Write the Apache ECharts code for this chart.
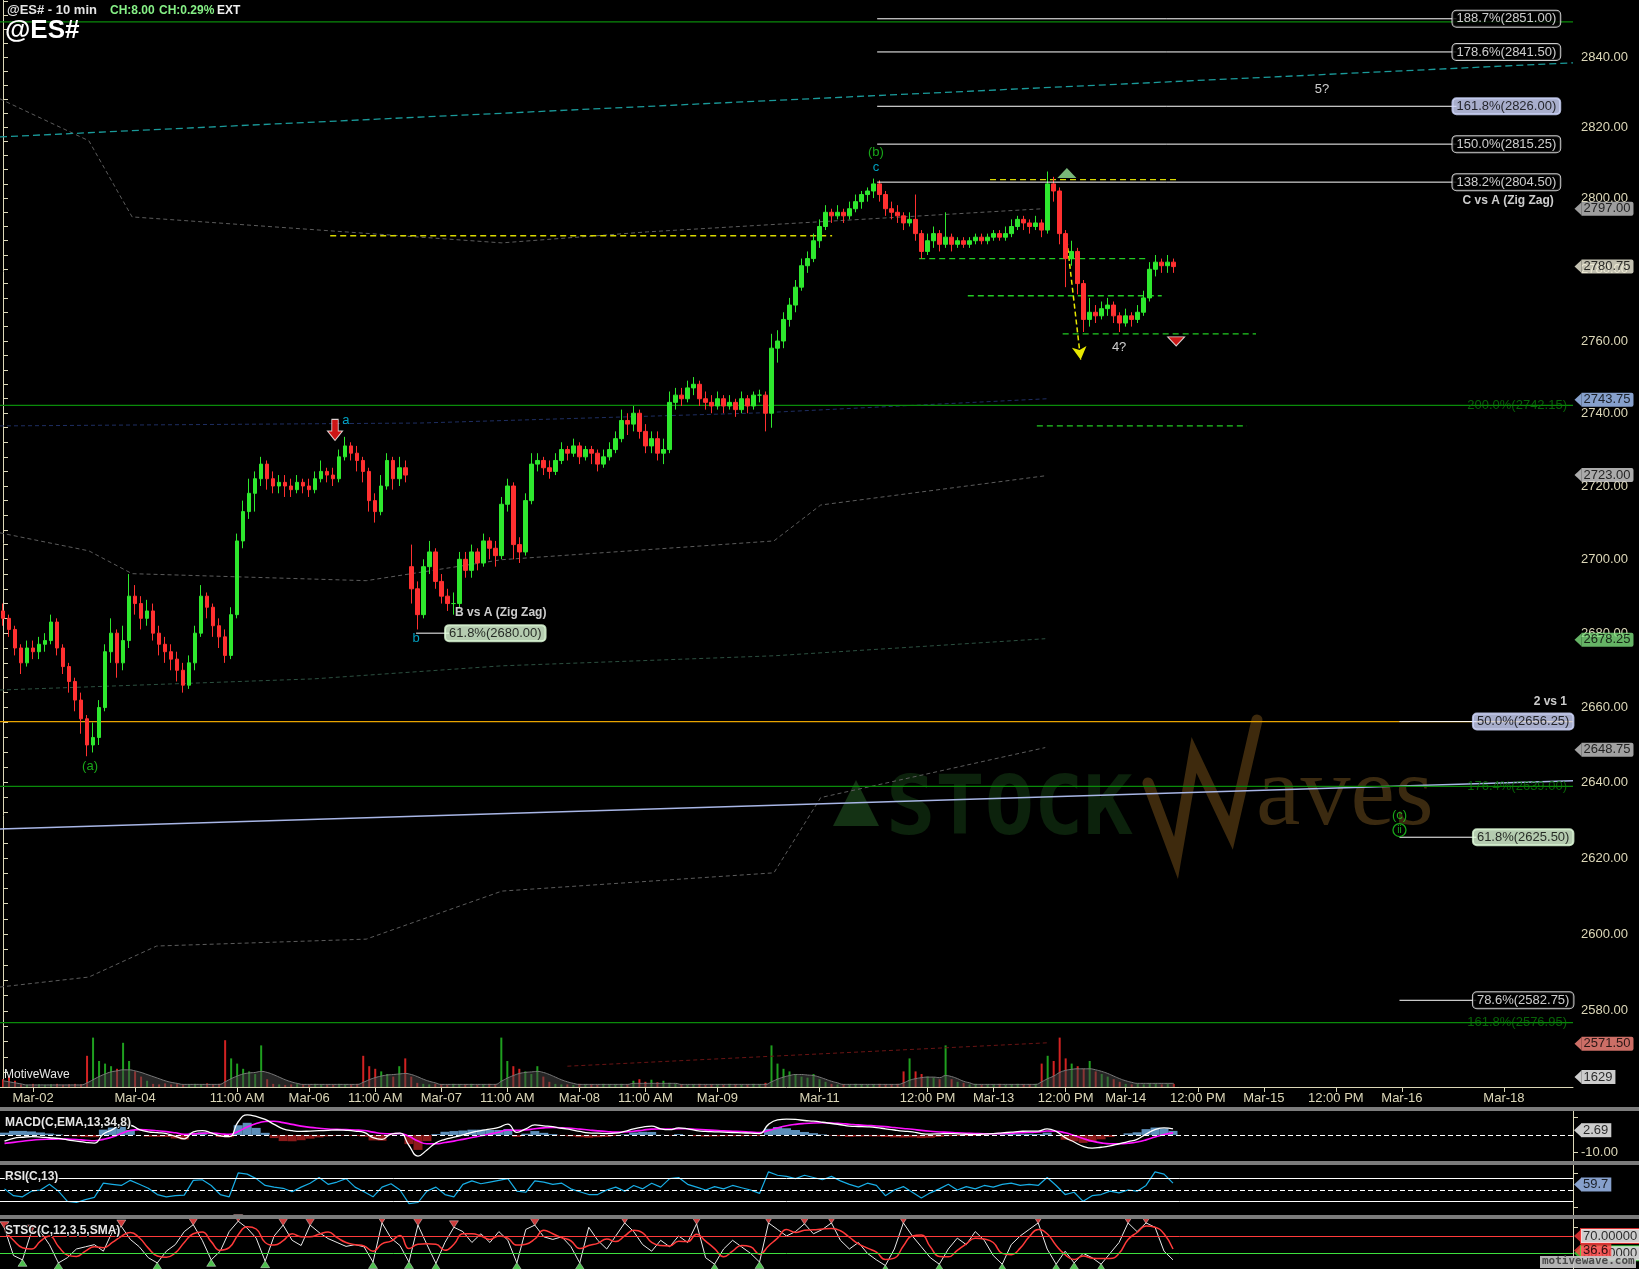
<!DOCTYPE html>
<html><head><meta charset="utf-8">
<script src="https://cdn.jsdelivr.net/npm/echarts@6.0.0/dist/echarts.min.js"></script>
<style>html,body{margin:0;padding:0;background:#000;overflow:hidden}#c{width:1639px;height:1269px}</style>
</head><body><div id="c"></div>
<script>
// ---------------- DATA ----------------
const N = 262;      // price-panel slots (10-min bars, compressed)
const N2 = 175;     // indicator-panel slots
const xTickLabels = [[5,'Mar-02'],[22,'Mar-04'],[39,'11:00 AM'],[51,'Mar-06'],[62,'11:00 AM'],[73,'Mar-07'],[84,'11:00 AM'],[96,'Mar-08'],[107,'11:00 AM'],[119,'Mar-09'],[136,'Mar-11'],[154,'12:00 PM'],[165,'Mar-13'],[177,'12:00 PM'],[187,'Mar-14'],[199,'12:00 PM'],[210,'Mar-15'],[222,'12:00 PM'],[233,'Mar-16'],[250,'Mar-18']];
const priceLabels = [2580,2600,2620,2640,2660,2680,2700,2720,2740,2760,2780,2800,2820,2840];
const priceMinorTicks = [2564,2568,2572,2576,2580,2584,2588,2592,2596,2600,2604,2608,2612,2616,2620,2624,2628,2632,2636,2640,2644,2648,2652,2656,2660,2664,2668,2672,2676,2680,2684,2688,2692,2696,2700,2704,2708,2712,2716,2720,2724,2728,2732,2736,2740,2744,2748,2752,2756,2760,2764,2768,2772,2776,2780,2784,2788,2792,2796,2800,2804,2808,2812,2816,2820,2824,2828,2832,2836,2840,2844,2848,2852,2856];

// [open, close, low, high]
const ohlc = [
[2686,2684,2682,2688],[2684,2681,2679,2685],[2681,2676,2674,2682],[2676,2672,2669,2677],[2672,2676,2671,2678],
[2676,2675,2673,2678],[2675,2677,2673,2679],[2677,2678,2675,2680],[2678,2683,2677,2685],[2683,2676,2674,2684],
[2676,2671,2669,2677],[2671,2667,2664,2672],[2667,2662,2659,2668],[2662,2657,2653,2664],[2657,2650,2647,2658],
[2650,2652,2648,2656],[2652,2660,2650,2662],[2660,2675,2659,2677],[2675,2680,2672,2684],[2680,2672,2668,2681],
[2672,2678,2670,2682],[2678,2690,2676,2696],[2690,2688,2685,2693],[2688,2684,2681,2690],[2684,2686,2682,2689],
[2686,2680,2678,2688],[2680,2677,2674,2682],[2677,2675,2672,2679],[2675,2673,2670,2677],[2673,2670,2667,2675],
[2670,2666,2664,2672],[2666,2672,2665,2674],[2672,2680,2670,2682],[2680,2690,2679,2693],[2690,2687,2684,2691],
[2687,2682,2679,2688],[2682,2679,2676,2684],[2679,2674,2672,2681],[2674,2685,2673,2687],[2685,2705,2684,2707],
[2705,2713,2703,2716],[2713,2718,2711,2722],[2718,2722,2713,2724],[2722,2726,2720,2728],[2726,2722,2719,2727],
[2722,2720,2718,2724],[2720,2721,2718,2723],[2721,2720,2717,2723],[2720,2719,2717,2722],[2719,2721,2718,2723],
[2721,2720,2718,2722],[2720,2719,2717,2722],[2719,2722,2718,2724],[2722,2724,2721,2727],[2724,2723,2721,2725],
[2723,2722,2720,2725],[2722,2728,2721,2730],[2728,2731,2727,2733.5],[2731,2729,2727,2732],[2729,2727,2724,2731],
[2727,2724,2721,2728],[2724,2716,2713,2725],[2716,2713,2710,2718],[2713,2720,2712,2723],[2720,2727,2719,2729],
[2727,2722,2719,2728],[2722,2725,2720,2728],[2725,2723,2721,2727],[2698,2692,2688,2704],[2692,2685,2681,2694],
[2685,2698,2684,2700],[2698,2702,2696,2705],[2702,2694,2692,2703],[2694,2690,2688,2696],[2690,2688,2686,2692],
[2688,2688,2685,2691],[2688,2700,2687,2702],[2700,2697,2695,2702],[2697,2702,2695,2704],[2702,2699,2697,2703],
[2699,2705,2698,2707],[2705,2703,2700,2706],[2703,2701,2698,2705],[2701,2715,2700,2717],[2715,2720,2713,2722],
[2720,2704,2700,2721],[2704,2702,2699,2706],[2702,2716,2701,2718],[2716,2726,2715,2729],[2726,2727,2724,2729],
[2727,2725,2723,2728],[2725,2724,2722,2727],[2724,2727,2723,2729],[2727,2730,2726,2732],[2730,2729,2727,2731],
[2729,2731,2728,2733],[2731,2728,2726,2732],[2728,2730,2727,2731],[2730,2729,2726,2731],[2729,2726,2724,2730],
[2726,2728,2725,2730],[2728,2730,2727,2732],[2730,2733,2729,2735],[2733,2738,2732,2741],[2738,2737,2734,2740],
[2737,2740,2735,2742],[2740,2735,2733,2741],[2735,2731,2729,2737],[2731,2733,2729,2735],[2733,2729,2727,2735],
[2729,2730,2726,2733],[2730,2743,2729,2746],[2743,2745,2741,2747],[2745,2744,2742,2747],[2744,2747,2743,2749],
[2747,2748,2745,2750],[2748,2744,2742,2749],[2744,2743,2741,2746],[2743,2742,2740,2745],[2742,2744,2741,2746],
[2744,2742,2740,2745],[2742,2743,2741,2745],[2743,2741,2739,2744],[2741,2744,2740,2746],[2744,2742,2740,2745],
[2742,2745,2741,2746],[2745,2745,2743,2746.5],[2745,2740,2735,2746],[2740,2758,2736,2762],[2758,2760,2754,2763],
[2760,2766,2758,2768],[2766,2770,2764,2772],[2770,2775,2768,2777],[2775,2781,2774,2783],[2781,2783,2779,2785],
[2783,2788,2782,2790],[2788,2792,2786,2794],[2792,2796,2791,2798],[2796,2795,2793,2797],[2795,2796,2794,2798],
[2796,2795,2793,2797],[2795,2797,2794,2799],[2797,2799,2796,2801],[2799,2801,2797,2802],[2801,2802,2799,2803],
[2802,2804,2800,2805.5],[2804,2801,2799,2805],[2801,2797,2795,2802],[2797,2796,2794,2799],[2796,2795,2793,2798],
[2795,2793,2791,2796],[2793,2794,2792,2796],[2794,2790,2788,2801],[2790,2785,2783,2791],[2785,2788,2784,2790],
[2788,2790,2786,2792],[2790,2787,2785,2791],[2787,2789,2786,2796],[2789,2787,2785,2790],[2787,2788,2786,2789],
[2788,2787,2786,2789],[2787,2788,2786,2789],[2788,2789,2787,2790],[2789,2788,2787,2790],[2788,2789,2787,2790],
[2789,2790,2788,2791],[2790,2789,2788,2791],[2789,2790,2788,2792],[2790,2792,2789,2794],[2792,2794,2791,2795],
[2794,2793,2791,2795],[2793,2792,2790,2794],[2792,2793,2791,2795],[2793,2791,2789,2794],[2791,2804,2790,2807.5],
[2804,2802,2799,2806],[2802,2790,2787,2803],[2790,2783,2775,2791],[2783,2785,2781,2788],[2785,2776,2773,2786],
[2776,2766,2762.5,2777],[2766,2768,2764,2772],[2768,2767,2765,2770],[2767,2769,2766,2771],[2769,2770,2767,2772],
[2770,2767,2765,2771],[2767,2765,2762.5,2768],[2765,2767,2764,2769],[2767,2766,2764,2768],[2766,2768,2765,2770],
[2768,2772,2767,2774],[2772,2780,2771,2782],[2780,2782,2778,2784],[2782,2781,2779,2783],[2781,2782,2779,2784],
[2782,2780.75,2779,2783]
];

const volume = [15,20,12, 5,4,6,5,4,5,6,4,5,6,5,
60,95,50,45,40,35,85,50,30,20,12,
6,5,7,5,6,4,5,6,5,7,5,6,
90,55,45,35,30,25,80,15,
6,5,4,5,6,5,4,6,5,5,4,6,5,5,6,
60,40,35,30,25,20,40,55,
20,8,6,5,6,5,4,6,5,5,6,4,5,6,5,
95,50,40,35,30,25,40,20,10,
6,5,5,4,6,5,5,4,6,5,5,6,5,
12,15,10,14,9,12,8,6,
5,4,5,6,4,5,5,4,6,5,4,5,6,5,8,
80,45,35,30,25,20,18,25,15,10,
6,5,5,4,6,5,4,5,6,5,5,6,
30,55,30,25,20,18,15,80,15,10,8,
5,6,4,5,5,6,4,5,6,5,5,6,
45,60,50,95,55,45,40,35,50,30,25,20,15,10,
6,5,6,5,7,6,5,6,6];

const volumeAvg = [12,10,8,6, 4,4,4,4,4,4,4,4,4,4,
8,14,20,25,29,31,33,33,31,28,24,20,16,12,9,7,
5,5,5,5,5,5,5,
10,16,21,25,27,28,30,28,24,19,14,10,7,
5,5,5,5,5,5,5,5,5,5,
9,14,18,21,23,24,25,26,24,20,15,11,8,
5,5,5,5,5,5,5,5,5,5,
11,17,22,26,28,29,30,28,24,19,14,10,7,
5,5,5,5,5,5,5,5,5,
7,7,7,7,7,7,7,7,
5,5,5,5,5,5,5,5,5,5,5,5,5,5,5,
10,15,19,22,24,24,23,22,19,15,11,8,
5,5,5,5,5,5,5,5,5,5,
8,13,16,18,19,19,18,22,20,16,11,8,
5,5,5,5,5,5,5,5,5,5,5,
10,16,21,28,32,34,35,35,35,33,30,26,21,16,12,9,
7,7,7,7,7,7,7];

const macdLine = [-3.5,-1.9,-1.3,-1.0,-1.2,-1.6,-2.0,-2.8,-3.5,-4.2, -4.6,0.5,3.0,5.8,5.5,3.0,1.8,1.3,0.8,-0.8, -2.2,1.8,2.5,1.2,-0.5,-1.0,7.5,11.4,10.5,8.8, 6.0,3.5,2.4,2.0,2.2,2.4,2.6,2.8,2.6,2.2, 1.5,-1.5,-2.5,0.5,1.0,-6.0,-12.0,-8.5,-4.5,-2.5, -1.3,0.0,1.5,2.5,3.3,4.3,6.2,1.5,3.5,5.7, 5.2,4.7,3.8,3.0,2.0,1.2,1.0,0.8,1.0,2.0, 3.5,4.5,5.0,3.5,3.0,4.0,3.5,2.5,2.0,1.8, 1.6,1.4,1.2,1.0,0.8,6.0,8.5,9.0,8.8,8.2, 7.8,7.2,6.5,5.8,5.0,4.8,4.6,4.2,3.5,2.8, 2.2,1.8,0.8,0.5,0.6,0.8,0.6,0.4,0.3,0.5, 0.8,1.2,1.6,2.0,2.2,2.2,3.5,2.0,-1.5,-4.0, -6.5,-7.5,-7.0,-6.2,-5.0,-3.8,-2.5,0.5,3.0,4.0, 3.5];
const macdSignal = [-4.8,-4.2,-3.6,-3.0,-2.6,-2.4,-2.3,-2.4,-2.6,-3.0, -3.3,-2.5,-1.2,0.8,2.5,3.0,2.8,2.4,1.9,1.2, 0.4,0.6,1.0,1.1,0.7,0.3,2.0,4.5,6.5,7.6, 7.8,7.0,6.0,5.0,4.3,3.8,3.4,3.2,3.0,2.8, 2.5,1.6,0.8,0.7,0.8,-0.8,-3.5,-5.0,-5.0,-4.3, -3.5,-2.5,-1.5,-0.5,0.5,1.5,2.8,2.6,2.8,3.5, 4.0,4.2,4.1,3.8,3.3,2.8,2.3,1.9,1.6,1.7, 2.1,2.7,3.3,3.4,3.3,3.5,3.5,3.2,2.9,2.6, 2.3,2.1,1.9,1.6,1.4,2.5,4.0,5.2,6.0,6.5, 6.8,6.9,6.8,6.5,6.1,5.7,5.4,5.1,4.7,4.2, 3.7,3.2,2.6,2.1,1.7,1.5,1.2,1.0,0.8,0.7, 0.7,0.8,1.0,1.3,1.5,1.7,2.2,2.1,1.2,-0.3, -2.0,-3.5,-4.5,-5.0,-5.0,-4.7,-4.0,-2.8,-1.2,0.3, 1.2];
const macdHist = [1.3,2.3,2.3,2.0,1.4,0.8,0.3,-0.4,-0.9,-1.2, -1.3,3.0,4.2,5.0,3.0,0,-1.0,-1.1,-1.1,-2.0, -2.6,1.2,1.5,0.1,-1.2,-1.3,5.5,6.9,4.0,1.2, -1.8,-3.5,-3.6,-3.0,-2.1,-1.4,-0.8,-0.4,-0.4,-0.6, -1.0,-3.1,-3.3,-0.2,0.2,-5.2,-8.5,-3.5,0.5,1.8, 2.2,2.5,3.0,3.0,2.8,2.8,3.4,-1.1,0.7,2.2, 1.2,0.5,-0.3,-0.8,-1.3,-1.6,-1.3,-1.1,-0.6,0.3, 1.4,1.8,1.7,0.1,-0.3,0.5,0,-0.7,-0.9,-0.8, -0.7,-0.7,-0.7,-0.6,-0.6,3.5,4.5,3.8,2.8,1.7, 1.0,0.3,-0.3,-0.7,-1.1,-0.9,-0.8,-0.9,-1.2,-1.4, -1.5,-1.4,-1.8,-1.6,-1.1,-0.7,-0.6,-0.6,-0.5,-0.2, 0.1,0.4,0.6,0.7,0.7,0.5,1.3,-0.1,-2.7,-3.7, -4.5,-4.0,-2.5,-1.2,0,0.9,1.5,3.3,4.2,3.7, 2.3];
const rsi = [52,40,38,48,50,60,48,30,28,33, 37,62,60,58,67,60,53,42,38,40, 41,67,68,58,42,38,80,78,70,58, 55,53,47,55,62,72,60,64,70,55, 47,38,55,61,50,26,28,48,55,42, 38,60,66,61,64,67,70,48,46,66, 64,60,62,52,47,42,42,50,55,48, 58,52,62,55,70,72,60,55,50,56, 52,58,54,50,44,82,76,74,70,76, 72,68,74,66,60,55,62,58,40,50, 56,46,36,45,52,60,50,56,52,58, 55,60,62,58,60,58,72,58,42,46, 30,40,42,48,45,50,48,58,82,78, 62];
const stK = [88,25,15,80,80,50,8,20,40,45, 50,35,80,92,62,45,20,8,35,50, 80,96,60,15,35,80,104,88,65,12, 70,95,60,48,95,78,64,55,46,50, 45,10,100,65,48,10,95,50,7,55, 90,80,55,75,55,80,60,8,85,95, 68,62,68,46,8,90,60,40,70,100, 80,50,35,60,45,70,55,98,20,5, 40,60,45,30,10,100,85,70,80,98, 75,85,100,60,40,55,30,15,2,40, 100,70,45,20,5,40,65,50,80,60, 25,5,50,70,85,100,40,5,35,8, 30,20,5,30,55,100,80,100,90,35, 15];
const stD = [82,60,43,40,58,70,46,26,23,35, 45,43,55,69,78,66,42,24,21,31, 55,75,79,57,37,43,73,91,86,55, 49,59,75,68,68,74,79,66,55,50, 47,35,52,58,71,41,51,52,51,37, 51,75,75,70,62,70,65,49,51,63, 83,75,66,59,41,48,53,63,57,70, 83,77,55,48,47,58,57,74,58,41, 22,35,48,45,28,47,65,85,78,83, 84,86,87,82,67,52,42,33,16,19, 47,70,72,45,23,22,37,52,65,63, 55,30,27,42,68,85,75,48,27,16, 24,19,18,18,30,62,78,93,90,75, 40];
const stPeaks = [0,3,13,21,26,31,34,42,46,50,59,69,77,85,89,92,100,115,125,127];
const stTroughs = [2,6,17,23,29,41,45,48,57,64,79,84,98,104,111,117,119,122];

// overlay studies (x in slot units, price)
const channelA = [[-0.5,2828.1],[14.3,2816.2],[21.5,2794.7],[83.1,2787.4],[107.4,2790.5],[173.2,2797.0]];
const channelB = [[-0.5,2707.2],[14.3,2702.3],[21.5,2696.1],[60.5,2694.2],[83.1,2699.9],[128.4,2705.0],[136.2,2714.8],[173.6,2722.8]];
const channelC = [[-0.5,2664.7],[51.8,2667.7],[83.1,2671.2],[128.4,2673.9],[173.6,2678.5]];
const channelD = [[-0.5,2586.2],[14.3,2588.8],[25.6,2596.9],[60.5,2598.7],[83.1,2611.3],[128.4,2616.1],[136.2,2636.0],[173.6,2649.3]];
const navyLine = [[-0.5,2736.5],[69.5,2737.3],[126.1,2740.1],[173.9,2744.0]];
const tealLine = [[-0.5,2817.3],[261.5,2838.4]];
const lavenderLine = [[-0.5,2627.7],[261.5,2640.5]];
const yellowLevels = [[2789.4,54.5,138.1],[2805.2,164.4,195.7]];
const greenDashLevels = [[2783.0,152.6,190.7],[2772.6,160.7,193.0],[2762.0,176.5,208.7],[2736.5,172.2,207.2]];
const greenLevels = [[2850.1,''],[2742.15,'200.0%'],[2639.0,'176.4%'],[2576.95,'161.8%']];
const orangeLevel = 2656.25;
const fibUpper = [['188.7%',2851.00,'k'],['178.6%',2841.50,'k'],['161.8%',2826.00,'b'],['150.0%',2815.25,'k'],['138.2%',2804.50,'k']];
const fibLower = [['50.0%',2656.25,'b'],['61.8%',2625.50,'g'],['78.6%',2582.75,'k']];
const fibB = [['61.8%',2680.00,'g']];
const waveLabels = [[14.5,2644.4,'(a)','#1fd01f'],[57.1,2737.9,'a','#00c8f0'],[68.8,2678.7,'b','#00c8f0'],[145.4,2813.0,'(b)','#1fd01f'],[145.4,2808.7,'c','#00c8f0'],[185.9,2758.2,'4?','#ffffff'],[219.7,2830.7,'5?','#ffffff'],[232.6,2631.2,'(c)','#1fd01f']];
const notes = [[75.3,2685.4,'B vs A (Zig Zag)','left'],[258.3,2799.2,'C vs A (Zig Zag)','right'],[260.5,2661.7,'2 vs 1','right']];
const axisTags = [[2797.00,'#c4c4c4'],[2780.75,'#f2f0dc'],[2743.75,'#a8c8ff'],[2723.00,'#d4d4d4'],[2678.25,'#7ee07e'],[2648.75,'#c8c8c8'],[2571.50,'#ff8a80']];

// ---------------- BUILD ----------------
const AX = '#dcd7b8';
const FONT = '"Liberation Sans", Arial, sans-serif';
const labelMap = {}; xTickLabels.forEach(([i,t]) => labelMap[i] = t);
const categories = Array.from({length:N}, (_, i) => String(i));
const indCats = Array.from({length:N2}, (_, i) => String(i));
const isLab = (idx) => labelMap[idx] !== undefined;

const boxStyle = {
  k: {backgroundColor:'#000', color:'#fff', borderColor:'#fff'},
  b: {backgroundColor:'#d2daff', color:'#000', borderColor:'#d2daff'},
  g: {backgroundColor:'#e2ffdc', color:'#000', borderColor:'#e2ffdc'}
};
function seg(data, color, type, width, z) {
  return {type:'line', xAxisIndex:1, yAxisIndex:0, data, symbol:'none', silent:true, z: z||3,
    lineStyle:{color, type: type||'solid', width: width||1}, animation:false};
}
function textPoint(x, y, text, color, fontSize, weight, align) {
  return {value:[x,y], label:{show:true, position:'inside', formatter:text, color, fontSize, fontWeight:weight||'normal', align:align||'center', fontFamily:FONT}};
}

const series = [];
// candles
series.push({type:'candlestick', xAxisIndex:0, yAxisIndex:0, data:ohlc, barWidth:4, z:5,
  itemStyle:{color:'#2ee82e', color0:'#ff3030', borderColor:'#2ee82e', borderColor0:'#ff3030', borderWidth:1}});
// channels
series.push(seg(channelA,'#5c5c5c',[4,3],1));
series.push(seg(channelB,'#5c5c5c',[4,3],1));
series.push(seg(channelC,'#2c5040',[4,3],1));
series.push(seg(channelD,'#5c5c5c',[4,3],1));
series.push(seg(navyLine,'#1e2e62',[4,3],1));
series.push(seg(tealLine,'#1a9a9a',[7,4],1.3));
series.push(seg(lavenderLine,'#a8b6e6','solid',1.5));
series.push(seg([[-0.5,orangeLevel],[261.5,orangeLevel]],'#e8a400','solid',1.3));
greenLevels.forEach(([p]) => series.push(seg([[-0.5,p],[261.5,p]],'#0a8a0a','solid',1.2)));
yellowLevels.forEach(([p,a,b]) => series.push(seg([[a,p],[b,p]],'#d8d800',[6,4],1.3)));
greenDashLevels.forEach(([p,a,b]) => series.push(seg([[a,p],[b,p]],'#22cc22',[6,4],1.3)));
fibUpper.forEach(([t,p]) => series.push(seg([[145.6,p],[242.1,p]],'#ffffff','solid',1,6)));
fibLower.forEach(([t,p]) => series.push(seg([[232.6,p],[245.4,p]],'#ffffff','solid',1,6)));
fibB.forEach(([t,p]) => series.push(seg([[68.8,p],[74.4,p]],'#ffffff','solid',1,6)));
// yellow dashed arrow
series.push({type:'line', xAxisIndex:1, yAxisIndex:0, data:[], silent:true,
  markLine:{silent:true, symbol:['none','arrow'], symbolSize:[11,13], animation:false,
    lineStyle:{color:'#e8e800', type:[5,3], width:1.5}, label:{show:false},
    data:[[{coord:[177.2,2788.2]},{coord:[179.5,2754.8]}]]}});

// annotation texts
const textData = [];
greenLevels.forEach(([p,t]) => { if (t) textData.push(textPoint(260.5,p,t+'('+p.toFixed(2)+')','#0a7a0a',13,'normal','right')); });
waveLabels.forEach(([x,y,t,c]) => textData.push(textPoint(x,y,t,c,13)));
notes.forEach(([x,y,t,a]) => textData.push(textPoint(x,y,t,'#ffffff',12,'bold',a)));
function boxPoint(x, p, pct, key) {
  const s = boxStyle[key];
  return {value:[x,p], label:{show:true, position:'inside', formatter: pct+'('+p.toFixed(2)+')', fontSize:13, fontFamily:FONT,
    color:s.color, backgroundColor:s.backgroundColor, borderColor:s.borderColor, borderWidth:1, borderRadius:4, padding:[2,4,1,4]}};
}
fibUpper.forEach(([t,p,k]) => textData.push(boxPoint(250.4,p,t,k)));
fibLower.forEach(([t,p,k]) => textData.push(boxPoint(253.2,p,t,k)));
fibB.forEach(([t,p,k]) => textData.push(boxPoint(82.0,p,t,k)));
series.push({type:'scatter', xAxisIndex:1, yAxisIndex:0, data:textData, symbolSize:1, clip:false, silent:true, z:10,
  itemStyle:{color:'rgba(0,0,0,0)'}});
// symbols: red arrow at 'a', green up triangle, red down triangle, circled ii
series.push({type:'scatter', xAxisIndex:1, yAxisIndex:0, silent:true, z:11, clip:false,
  data:[
    {value:[55.3,2735.4], symbol:'path://M4,0 L10,0 L10,11 L14,11 L7,20 L0,11 L4,11 Z', symbolSize:[15,21], itemStyle:{color:'#ff1a1a', borderColor:'#ffffff', borderWidth:1}},
    {value:[177.2,2807.1], symbol:'triangle', symbolSize:[19,10], itemStyle:{color:'#96e496'}},
    {value:[195.4,2759.9], symbol:'triangle', symbolRotate:180, symbolSize:[17,9], itemStyle:{color:'#ff2020', borderColor:'#ffffff', borderWidth:1}},
    {value:[232.6,2627.4], symbol:'circle', symbolSize:13, itemStyle:{color:'#000', borderColor:'#1fd01f', borderWidth:1.3},
      label:{show:true, position:'inside', formatter:'ii', color:'#1fd01f', fontSize:10, fontFamily:FONT}}
  ]});
// price axis tags
series.push({type:'scatter', xAxisIndex:1, yAxisIndex:0, silent:true, z:12, clip:false,
  data: axisTags.map(([p,c]) => ({value:[261.5,p], itemStyle:{color:c},
    label:{show:true, position:'right', distance:0, formatter:p.toFixed(2), color:'#000', fontSize:13, fontFamily:FONT,
      backgroundColor:c, padding:[1,3,0,2], lineHeight:13, borderRadius:[0,2,2,0]}})),
  symbol:'path://M0,6 L7,0 L7,12 Z', symbolSize:[7,13], symbolOffset:[5,0]});

// volume
series.push({type:'bar', xAxisIndex:2, yAxisIndex:1, data:volume, barWidth:2, silent:true, z:2,
  itemStyle:{color:(p) => ohlc[p.dataIndex][1] >= ohlc[p.dataIndex][0] ? '#1f9f1f' : '#d22222'}});
series.push({type:'line', xAxisIndex:2, yAxisIndex:1, data:volumeAvg, smooth:true, symbol:'none', silent:true, z:3,
  lineStyle:{color:'#7a7a7a', width:1}, areaStyle:{color:'rgba(70,70,70,0.75)'}});
series.push({type:'line', xAxisIndex:2, yAxisIndex:1, data:[[94,40],[174,85]], symbol:'none', silent:true, z:3,
  lineStyle:{color:'#6a1414', type:[4,3], width:1}});
series.push({type:'scatter', xAxisIndex:2, yAxisIndex:1, silent:true, z:12, clip:false,
  data:[{value:[N-1,19], label:{show:true, position:'right', distance:0, formatter:'1629', color:'#000', fontSize:13, fontFamily:FONT,
    backgroundColor:'#ffffff', padding:[1,3,0,2], lineHeight:13}}],
  itemStyle:{color:'#ffffff'}, symbol:'path://M0,6 L7,0 L7,12 Z', symbolSize:[7,13], symbolOffset:[8,0]});

// MACD
series.push({type:'bar', xAxisIndex:3, yAxisIndex:2, data:macdHist, barWidth:'100%', silent:true, z:2,
  itemStyle:{color:(p) => p.value >= 0 ? 'rgba(108,168,218,0.85)' : '#8a1a1a'},
  markLine:{silent:true, symbol:'none', label:{show:false}, lineStyle:{color:'#ffffff', type:[5,3], width:1}, data:[{yAxis:0}]}});
series.push({type:'line', xAxisIndex:3, yAxisIndex:2, data:macdSignal, symbol:'none', smooth:true, silent:true, z:3, lineStyle:{color:'#ff10ff', width:1.6}});
series.push({type:'line', xAxisIndex:3, yAxisIndex:2, data:macdLine, symbol:'none', smooth:true, silent:true, z:4, lineStyle:{color:'#ffffff', width:1.3}});
// RSI
series.push({type:'line', xAxisIndex:4, yAxisIndex:3, data:rsi, symbol:'none', silent:true, z:3, lineStyle:{color:'#18aee6', width:1.2},
  markLine:{silent:true, symbol:'none', label:{show:false}, data:[
    {yAxis:70, lineStyle:{color:'#ffffff', type:'solid', width:1}},
    {yAxis:50, lineStyle:{color:'#ffffff', type:[5,3], width:1}},
    {yAxis:30, lineStyle:{color:'#ffffff', type:'solid', width:1}}]}});
// STSC
series.push({type:'line', xAxisIndex:5, yAxisIndex:4, data:stK, symbol:'none', silent:true, z:3, lineStyle:{color:'#e8e8e8', width:1},
  markLine:{silent:true, symbol:'none', label:{show:false}, data:[
    {yAxis:70, lineStyle:{color:'#ff3a3a', type:'solid', width:1}},
    {yAxis:30, lineStyle:{color:'#3ee03e', type:'solid', width:1}}]}});
series.push({type:'line', xAxisIndex:5, yAxisIndex:4, data:stD, symbol:'none', smooth:true, silent:true, z:4, lineStyle:{color:'#ff3a3a', width:1.5}});
series.push({type:'scatter', xAxisIndex:5, yAxisIndex:4, silent:true, z:6, clip:false,
  data: stPeaks.map(j => [j, stK[j]]), symbol:'triangle', symbolRotate:180, symbolSize:[9,7], symbolOffset:[0,-3],
  itemStyle:{color:'#ff4848', borderColor:'#ffffff', borderWidth:0.5}});
series.push({type:'scatter', xAxisIndex:5, yAxisIndex:4, silent:true, z:6, clip:false,
  data: stTroughs.map(j => [j, stK[j]]), symbol:'triangle', symbolSize:[9,7], symbolOffset:[0,3],
  itemStyle:{color:'#60ee60', borderColor:'#ffffff', borderWidth:0.5}});
// indicator tags
function tag(xi, yi, v, text, bg, fg, border) {
  return {type:'scatter', xAxisIndex:xi, yAxisIndex:yi, silent:true, z:12, clip:false,
    data:[{value:[N2-1,v], label:{show:true, position:'right', distance:0, formatter:text, color:fg, fontSize:13, fontFamily:FONT,
      backgroundColor:bg, borderColor:border||bg, borderWidth:border?1:0, padding:[1,3,0,2], lineHeight:13}}],
    itemStyle:{color:border||bg}, symbol:'path://M0,6 L7,0 L7,12 Z', symbolSize:[7,13], symbolOffset:[9,0]};
}
series.push(tag(3,2,2.69,'2.69','#ffffff','#000'));
series.push(tag(4,3,59.7,'59.7','#a8c8ff','#000'));
series.push(tag(5,4,70,'70.00000','#ffffff','#000','#ff3a3a'));
series.push(tag(5,4,30,'30.00000','#ffffff','#000','#3ee03e'));
series.push(tag(5,4,36.6,'36.6','#ff4040','#000'));

const hidCat = (g, d) => ({type:'category', gridIndex:g, data:d, show:false});
const option = {
  backgroundColor:'#000',
  animation:false,
  textStyle:{fontFamily:FONT},
  grid:[
    {left:0, right:66, top:0, height:1087},
    {left:0, right:66, top:1035, height:52},
    {left:0, right:66, top:1111, height:50},
    {left:0, right:66, top:1165, height:50},
    {left:0, right:66, top:1219, height:50}
  ],
  xAxis:[
    {type:'category', gridIndex:0, data:categories, boundaryGap:true,
      axisLine:{show:true, lineStyle:{color:AX, width:1}},
      axisTick:{show:true, alignWithLabel:true, interval:(idx) => isLab(idx), length:5, lineStyle:{color:AX}},
      axisLabel:{interval:(idx) => isLab(idx), formatter:(v, idx) => labelMap[idx] || '', color:AX, fontSize:13, margin:5},
      splitLine:{show:false}},
    {type:'value', gridIndex:0, min:-0.5, max:N-0.5, show:false},
    hidCat(1, categories),
    hidCat(2, indCats), hidCat(3, indCats), hidCat(4, indCats)
  ],
  yAxis:[
    {type:'log', logBase:10, gridIndex:0, min:2560.3, max:2856.4, position:'right',
      axisLine:{show:true, lineStyle:{color:AX}},
      axisTick:{show:true, customValues:priceMinorTicks, length:5, lineStyle:{color:AX}},
      axisLabel:{show:true, customValues:priceLabels, formatter:(v) => Number(v).toFixed(2), color:AX, fontSize:13, margin:8},
      splitLine:{show:false}},
    {type:'value', gridIndex:1, min:0, max:100, show:false},
    {type:'value', gridIndex:2, min:-14.8, max:13.6, position:'right',
      axisLine:{show:true, lineStyle:{color:AX}},
      axisTick:{show:true, customValues:[10,-10], length:5, lineStyle:{color:AX}},
      axisLabel:{show:true, customValues:[-10], formatter:(v) => Number(v).toFixed(2), color:AX, fontSize:13, margin:8},
      splitLine:{show:false}},
    {type:'value', gridIndex:3, min:6, max:94, position:'right',
      axisLine:{show:true, lineStyle:{color:AX}},
      axisTick:{show:true, customValues:[80,20], length:5, lineStyle:{color:AX}},
      axisLabel:{show:false}, splitLine:{show:false}},
    {type:'value', gridIndex:4, min:-6, max:109, position:'right',
      axisLine:{show:true, lineStyle:{color:AX}},
      axisTick:{show:true, customValues:[90], length:5, lineStyle:{color:AX}},
      axisLabel:{show:false}, splitLine:{show:false}}
  ],
  series,
  graphic:[
    // StockWaves watermark
    {type:'polygon', z:0, silent:true, shape:{points:[[833,826],[879,826],[856,780]]}, style:{fill:'#143214'}},
    {type:'text', z:0, silent:true, x:886, y:772, style:{text:'STOCK', font:'bold 82px "DejaVu Sans Mono"', fill:'#0c220c'}},
    {type:'polyline', z:0, silent:true, shape:{points:[[1148,783],[1176,858],[1194,755],[1231,833],[1257,720]]}, style:{stroke:'#3e2a0d', lineWidth:11, lineJoin:'miter', lineCap:'round', fill:null}},
    {type:'text', z:0, silent:true, x:1256, y:748, style:{text:'aves', font:'100px "Liberation Serif"', fill:'#3b2a10'}},
    // separators
    {type:'rect', z:20, silent:true, shape:{x:0, y:1107, width:1639, height:4}, style:{fill:'#7c7c7c'}},
    {type:'rect', z:20, silent:true, shape:{x:0, y:1161, width:1639, height:4}, style:{fill:'#7c7c7c'}},
    {type:'rect', z:20, silent:true, shape:{x:0, y:1215, width:1639, height:4}, style:{fill:'#7c7c7c'}},
    // titles
    {type:'text', z:30, silent:true, x:7, y:4, style:{text:'@ES# - 10 min', font:'bold 13px '+FONT, fill:'#e4e4e4'}},
    {type:'text', z:30, silent:true, x:110, y:5, style:{text:'CH:8.00', font:'bold 12px '+FONT, fill:'#86f086'}},
    {type:'text', z:30, silent:true, x:159, y:5, style:{text:'CH:0.29%', font:'bold 12px '+FONT, fill:'#86f086'}},
    {type:'text', z:30, silent:true, x:217, y:5, style:{text:'EXT', font:'bold 12px '+FONT, fill:'#f0f0f0'}},
    {type:'text', z:30, silent:true, x:5, y:18, style:{text:'@ES#', font:'bold 26px '+FONT, fill:'#ffffff'}},
    {type:'text', z:30, silent:true, x:4, y:1069, style:{text:'MotiveWave', font:'12px '+FONT, fill:'#e8e8e8'}},
    {type:'text', z:30, silent:true, x:5, y:1117, style:{text:'MACD(C,EMA,13,34,8)', font:'bold 12px '+FONT, fill:'#e6e6e6', stroke:'#000', lineWidth:2}},
    {type:'text', z:30, silent:true, x:5, y:1171, style:{text:'RSI(C,13)', font:'bold 12px '+FONT, fill:'#e6e6e6', stroke:'#000', lineWidth:2}},
    {type:'text', z:30, silent:true, x:5, y:1225, style:{text:'STSC(C,12,3,5,SMA)', font:'bold 12px '+FONT, fill:'#e6e6e6', stroke:'#000', lineWidth:2}},
    {type:'rect', z:30, silent:true, shape:{x:1540, y:1256, width:96, height:12}, style:{fill:'#c8c8c8', opacity:0.9}},
    {type:'text', z:31, silent:true, x:1542, y:1256, style:{text:'motivewave.com', font:'bold 11px "DejaVu Sans Mono"', fill:'#4a4a4a'}}
  ]
};
const chart = echarts.init(document.getElementById('c'), null, {renderer:'canvas', width:1639, height:1269});
chart.setOption(option);
</script></body></html>
